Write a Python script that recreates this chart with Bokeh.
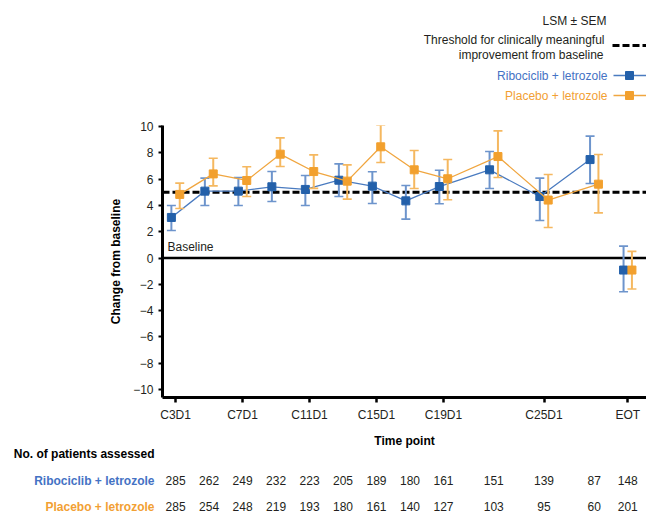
from bokeh.plotting import figure
from bokeh.layouts import column
from bokeh.models import Range1d, FixedTicker, Span, Label
from bokeh.core.properties import value
from bokeh.embed import file_html
from bokeh.resources import INLINE

# ---------------- data ----------------
cycles = [3, 5, 7, 9, 11, 13, 15, 17, 19, 22, 25, 28, 30]   # 30 = EOT
tick_pos = [3, 7, 11, 15, 19, 25, 30]
tick_labels = ["C3D1", "C7D1", "C11D1", "C15D1", "C19D1", "C25D1", "EOT"]
y_ticks = [-10, -8, -6, -4, -2, 0, 2, 4, 6, 8, 10]

ribo_mean = [3.09, 5.09, 5.09, 5.42, 5.22, 5.92, 5.47, 4.35, 5.44, 6.71, 4.68, 7.49, -0.91]
ribo_upper = [4.00, 6.08, 6.13, 6.58, 6.28, 7.16, 6.56, 5.52, 6.68, 8.10, 6.08, 9.27, 0.91]
ribo_lower = [2.10, 4.00, 4.00, 4.30, 4.00, 4.68, 4.15, 2.96, 4.13, 5.29, 2.86, 5.67, -2.56]

plac_mean = [4.84, 6.40, 5.90, 7.90, 6.58, 5.85, 8.46, 6.71, 6.03, 7.72, 4.41, 5.62, -0.91]
plac_upper = [5.70, 7.59, 6.94, 9.14, 7.85, 7.09, 10.10, 8.18, 7.49, 9.67, 6.35, 7.87, 0.51]
plac_lower = [3.77, 5.49, 4.68, 6.96, 5.30, 4.48, 7.27, 5.29, 4.43, 6.13, 2.33, 3.44, -2.35]

ribo_n = [285, 262, 249, 232, 223, 205, 189, 180, 161, 151, 139, 87, 148]
plac_n = [285, 254, 248, 219, 193, 180, 161, 140, 127, 103, 95, 60, 201]

threshold = 5
ribo_name = "Ribociclib + letrozole"
plac_name = "Placebo + letrozole"

# ---------------- layout ----------------
W = 646
H_TOP, H_MAIN = 110, 314
FRAME_L = 162
X0, X1 = 2.22, 31.12
Y0, Y1 = -10.6, 10.08
DODGE = 0.25
FONT = "Liberation Sans"
TXT = "#231f20"

BLUE_M, BLUE_L, BLUE_E, BLUE_T = "#2360aa", "#4a7bc0", "#6d94cc", "#4472c4"
ORNG_M, ORNG_L, ORNG_E, ORNG_T = "#f2a02e", "#f0a640", "#f5b860", "#f2a033"


def dx(px):
    return X0 + (px - FRAME_L) * (X1 - X0) / (W - FRAME_L)


def strip(height, y_axis=None):
    f = figure(width=W, height=height, x_range=Range1d(X0, X1), y_range=Range1d(height, 0),
               output_backend="svg", toolbar_location=None, title=None,
               x_axis_type=None, y_axis_type=y_axis,
               min_border_left=FRAME_L, min_border_right=0, min_border_top=0,
               min_border_bottom=0)
    f.outline_line_color = None
    f.xgrid.visible = False
    f.ygrid.visible = False
    f.background_fill_color = "white"
    f.border_fill_color = "white"
    return f


def txt(f, x, y, text, color=TXT, style="normal", align="right"):
    f.text(x=[x], y=[y], text=[text], text_align=align, text_baseline="middle",
           text_font=value(FONT), text_font_size="12px", text_font_style=style,
           text_color=color)


def row_label(f, y, text, color):
    ax = f.yaxis[0]
    ax.ticker = FixedTicker(ticks=[y])
    ax.major_label_overrides = {y: text}
    ax.axis_line_color = None
    ax.major_tick_line_color = None
    ax.minor_tick_line_color = None
    ax.major_label_standoff = 2
    ax.major_label_text_font = FONT
    ax.major_label_text_font_size = "12px"
    ax.major_label_text_font_style = "bold"
    ax.major_label_text_color = color


# ---------------- legend (top) ----------------
top = strip(H_TOP)
txt(top, dx(606), 20, "LSM \u00b1 SEM")
txt(top, dx(604), 39, "Threshold for clinically meaningful")
txt(top, dx(603), 54, "improvement from baseline")
txt(top, dx(607), 75, ribo_name, BLUE_T)
txt(top, dx(607), 95, plac_name, ORNG_T)
top.line([dx(612), dx(646)], [45, 45], line_color="black", line_width=3, line_dash="7 3")
top.line([dx(613), dx(646)], [75, 75], line_color=BLUE_L, line_width=1.3)
top.scatter([dx(629)], [75], marker="square", size=8, fill_color=BLUE_M, line_color=BLUE_M)
top.line([dx(613), dx(646)], [95, 95], line_color=ORNG_L, line_width=1.3)
top.scatter([dx(629)], [95], marker="square", size=8, fill_color=ORNG_M, line_color=ORNG_M)

# ---------------- main chart ----------------
p = figure(width=W, height=H_MAIN, x_range=Range1d(X0, X1), y_range=Range1d(Y0, Y1),
           output_backend="svg", toolbar_location=None, title=None,
           min_border_left=FRAME_L, min_border_right=0, min_border_top=15,
           min_border_bottom=27)
p.outline_line_color = None
p.xgrid.visible = False
p.ygrid.visible = False
p.background_fill_color = "white"
p.border_fill_color = "white"

for ax in (p.xaxis, p.yaxis):
    ax.axis_line_width = 3
    ax.axis_line_color = "black"
    ax.major_tick_line_color = "black"
    ax.minor_tick_line_color = None
    ax.major_tick_in = 0
    ax.major_label_text_font = FONT
    ax.major_label_text_font_size = "12px"
    ax.major_label_text_color = TXT

p.xaxis.ticker = FixedTicker(ticks=tick_pos)
p.xaxis.major_label_overrides = {t: l for t, l in zip(tick_pos, tick_labels)}
p.xaxis.major_tick_out = 5
p.xaxis.major_tick_line_width = 2.5
p.xaxis.major_label_standoff = 5

p.yaxis.ticker = FixedTicker(ticks=y_ticks)
p.yaxis.major_label_overrides = {t: str(t).replace("-", "\u2212") for t in y_ticks}
p.yaxis.major_tick_out = 4
p.yaxis.major_tick_line_width = 2
p.yaxis.major_label_standoff = 5
p.yaxis.axis_label = "Change from baseline"
p.yaxis.axis_label_text_font = FONT
p.yaxis.axis_label_text_font_size = "12px"
p.yaxis.axis_label_text_font_style = "bold"
p.yaxis.axis_label_text_color = "black"
p.yaxis.axis_label_standoff = 7

p.add_layout(Span(location=0, dimension="width", line_color="black", line_width=2.5,
                  level="underlay"))
p.add_layout(Span(location=threshold, dimension="width", line_color="black", line_width=3,
                  line_dash="7 3", level="underlay"))
p.add_layout(Label(x=X0, y=0, x_offset=5, y_offset=4, text="Baseline", text_align="left",
                   text_baseline="bottom", text_font=FONT, text_font_size="12px",
                   text_color=TXT))


def series(mean, upper, lower, shift, mc, lc, ec):
    xs = [c + shift for c in cycles]
    p.segment(xs, lower, xs, upper, line_color=ec, line_width=2)
    p.scatter(xs, upper, marker="dash", size=9, line_color=ec, line_width=1.6)
    p.scatter(xs, lower, marker="dash", size=9, line_color=ec, line_width=1.6)
    p.line(xs[:-1], mean[:-1], line_color=lc, line_width=1.3)
    p.scatter(xs, mean, marker="square", size=8, fill_color=mc, line_color=mc)


series(ribo_mean, ribo_upper, ribo_lower, -DODGE, BLUE_M, BLUE_L, BLUE_E)
series(plac_mean, plac_upper, plac_lower, DODGE, ORNG_M, ORNG_L, ORNG_E)

# ---------------- patient table (bottom) ----------------
b0 = strip(42, "linear")
txt(b0, dx(404), 16, "Time point", "black", "bold", "center")
row_label(b0, 29, "No. of patients assessed", "black")

b1 = strip(28, "linear")
row_label(b1, 14, ribo_name, BLUE_T)
b1.text(x=cycles, y=[14] * len(cycles), text=[str(n) for n in ribo_n], text_align="center",
        text_baseline="middle", text_font=value(FONT), text_font_size="12px", text_color=TXT)

b2 = strip(19, "linear")
row_label(b2, 12, plac_name, ORNG_T)
b2.text(x=cycles, y=[12] * len(cycles), text=[str(n) for n in plac_n], text_align="center",
        text_baseline="middle", text_font=value(FONT), text_font_size="12px", text_color=TXT)

layout = column(top, p, b0, b1, b2, spacing=0)
open("out.html", "w").write(file_html(layout, INLINE))
